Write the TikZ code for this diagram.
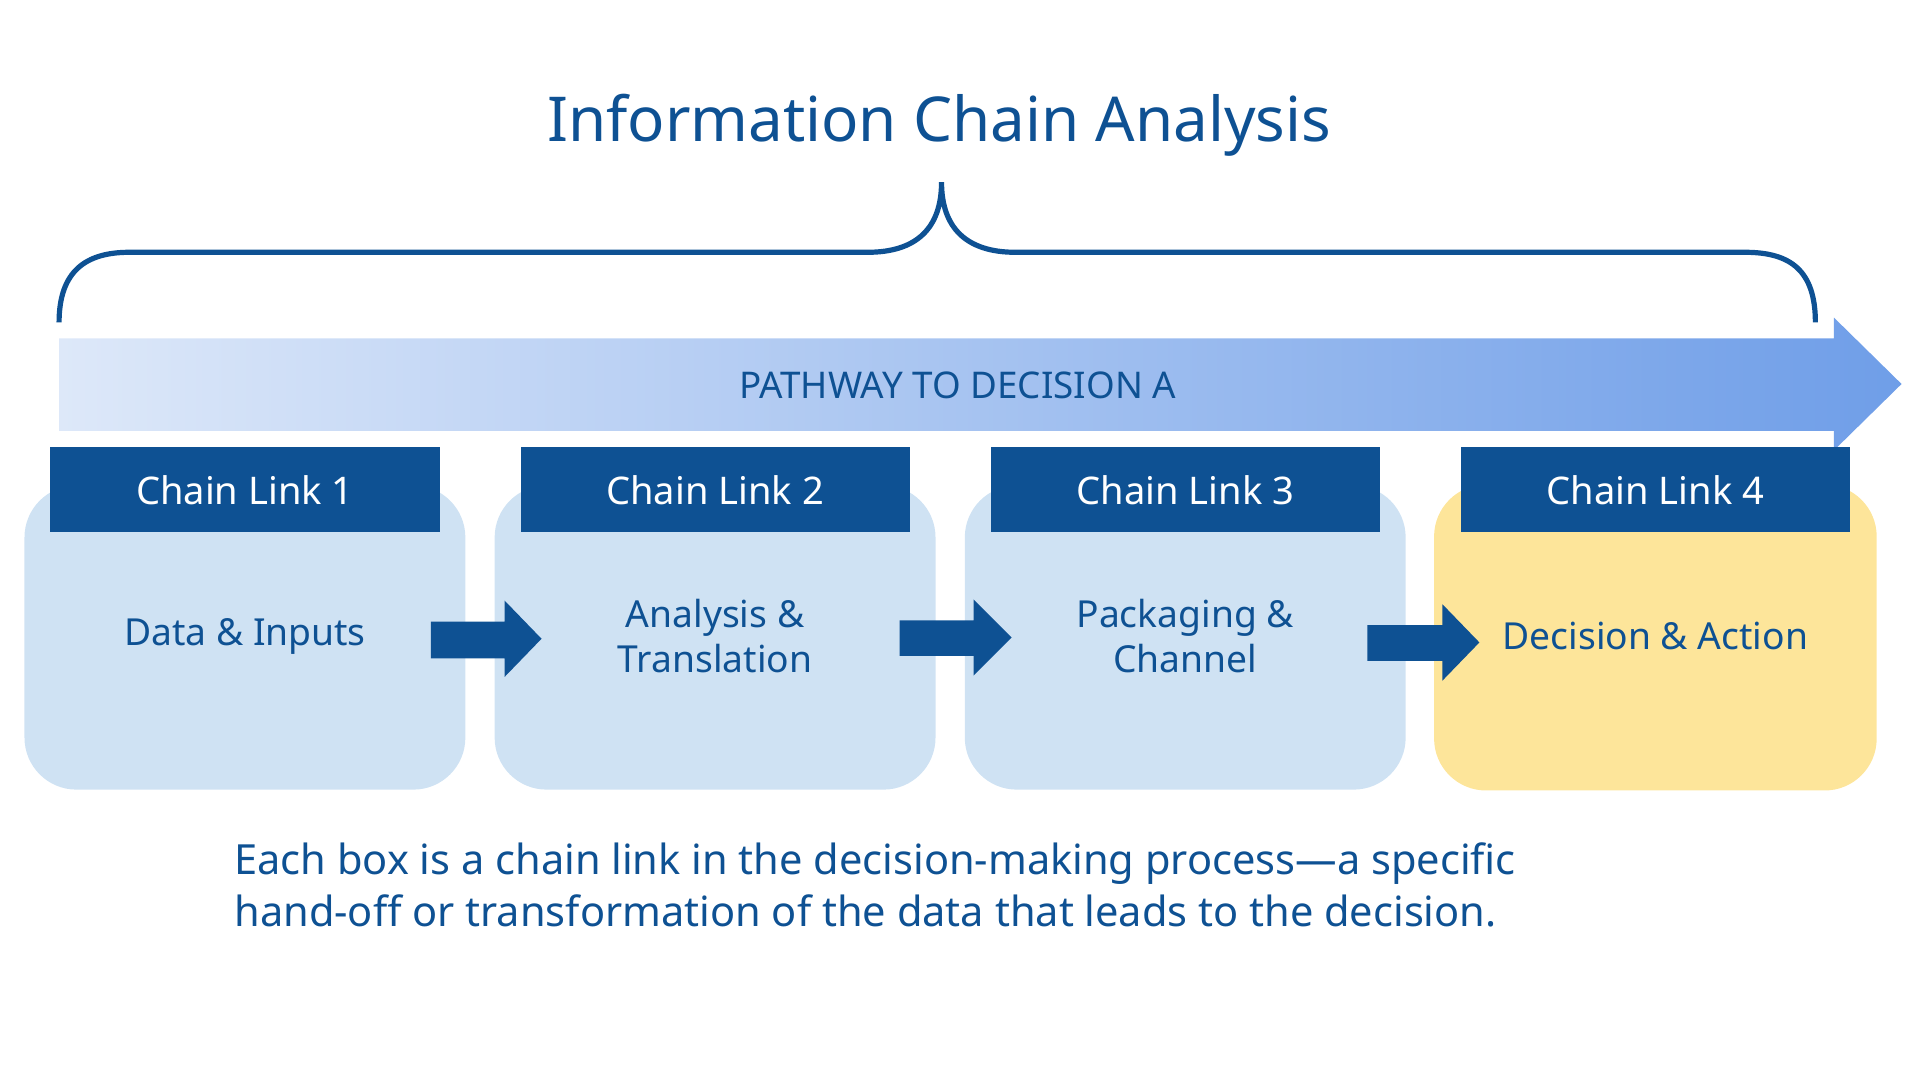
\documentclass[tikz,border=0pt]{standalone}
\usepackage{fontspec}
\setmainfont{Noto Sans}
\usetikzlibrary{positioning}
\definecolor{navy}{HTML}{0E5193}
\definecolor{pale}{HTML}{CFE2F3}
\definecolor{gold}{HTML}{FDE59A}
\definecolor{bandL}{HTML}{DDE8F9}
\definecolor{bandR}{HTML}{6F9EE8}
\tikzset{
  linkbox/.style={fill=pale, rounded corners=12pt, minimum width=3.58cm, minimum height=2.47cm, inner sep=0pt},
  linkhead/.style={fill=navy, text=white, font=\fontsize{8.8}{10}\selectfont\bfseries, minimum width=3.16cm, minimum height=0.69cm, inner sep=0pt},
  linktext/.style={text=navy, font=\fontsize{8.6}{10.4}\selectfont\bfseries, align=center},
  stepper/.style={fill=navy}
}
\begin{document}
\begin{tikzpicture}[x=0.01cm,y=-0.01cm]
\useasboundingbox (0,0) rectangle (1560,877);
% title and brace
\node[text=navy, font=\fontsize{14.3}{16}\selectfont\bfseries] (title) at (763,102) {Information Chain Analysis};
\draw[navy, line width=1.2pt]
  (48,262) .. controls (48,220) and (70,205) .. (105,205) -- (705,205)
  .. controls (745,205) and (765,185) .. (765,148)
  .. controls (765,185) and (785,205) .. (825,205) -- (1418,205)
  .. controls (1455,205) and (1475,220) .. (1475,262);
% pathway band
\shade[left color=bandL, right color=bandR]
  (48,275) -- (1490,275) -- (1490,258) -- (1545,312) -- (1490,366) -- (1490,350) -- (48,350) -- cycle;
\node[text=navy, font=\fontsize{8.5}{10}\selectfont\bfseries] (pathway) at (778,313) {PATHWAY TO DECISION A};
% chain links
\foreach \i/\x/\txt in {1/199/{Data \& Inputs}, 2/581/{Analysis \&\\Translation}, 3/963/{Packaging \&\\Channel}, 4/1345/{Decision \& Action}}{
  \node[linkbox] (box\i) at (\x,518) {};
  \node[linkhead] (head\i) at (\x,398) {Chain Link \i};
  \node[linktext] (text\i) at (\x,517) {\txt};
}
\fill[gold, rounded corners=12pt] (box4.south west) rectangle (box4.north east);
\node[linkhead] at (head4) {Chain Link 4};
\node[linktext] at (text4) {Decision \& Action};
% hand-off arrows
\fill[stepper] (350,505) -- (410,505) -- (410,488) -- (440,519) -- (410,550) -- (410,535) -- (350,535) -- cycle;
\fill[stepper] (731,504) -- (791,504) -- (791,487) -- (822,518) -- (791,549) -- (791,533) -- (731,533) -- cycle;
\fill[stepper] (1111,508) -- (1172,508) -- (1172,491) -- (1202,522) -- (1172,553) -- (1172,537) -- (1111,537) -- cycle;
% caption
\node[text=navy, font=\fontsize{9.6}{12}\selectfont, align=left, anchor=north west] (caption) at (178,672)
  {Each box is a chain link in the decision-making process—a specific\\hand-off or transformation of the data that leads to the decision.};
\end{tikzpicture}
\end{document}
